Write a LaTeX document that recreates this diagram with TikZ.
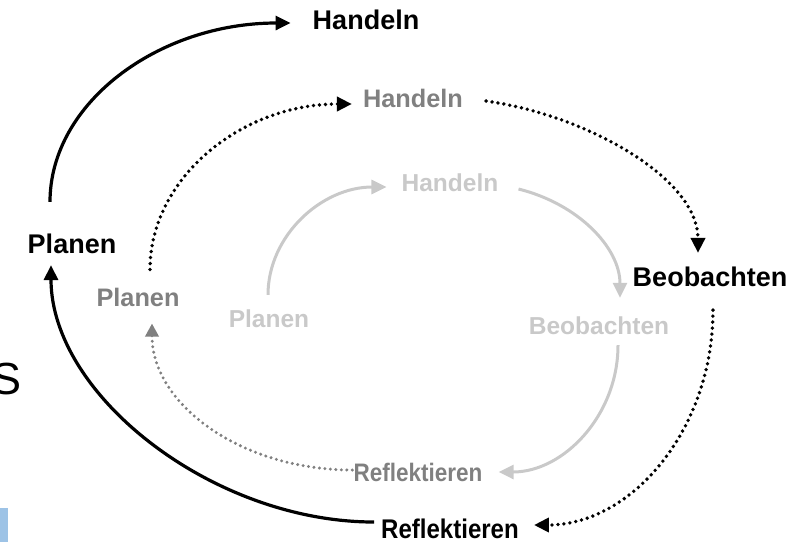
\documentclass[tikz,border=0pt]{standalone}
\usepackage{fontspec}
\usepackage{graphicx}
\setmainfont{Liberation Sans}
\usetikzlibrary{arrows.meta}
\definecolor{midgray}{HTML}{808080}
\definecolor{palegray}{HTML}{C9C9C9}
\definecolor{slideblue}{HTML}{9DC3E6}
\begin{document}
\begin{tikzpicture}[x=1pt, y=-1pt,
    blk/.style={inner sep=0pt, font=\fontsize{27}{30}\selectfont\bfseries},
    gry/.style={inner sep=0pt, text=midgray, font=\fontsize{25.3}{28}\selectfont\bfseries},
    pale/.style={inner sep=0pt, text=palegray, font=\fontsize{24.5}{27}\selectfont\bfseries},
    solidarr/.style={line width=3.2pt, -{Triangle[length=15pt,width=14pt]}},
    dotarr/.style={line width=3.8pt, line cap=round, dash pattern=on 0pt off 6pt, -{Triangle[length=15pt,width=14pt]}},
    grydotarr/.style={midgray, line width=3.3pt, line cap=round, dash pattern=on 0pt off 5.5pt, -{Triangle[length=13pt,width=13pt]}},
    palearr/.style={palegray, line width=3pt, -{Triangle[length=15pt,width=14pt]}}]
    \useasboundingbox (0,0) rectangle (810,542);
    % slide leftovers
    \fill[slideblue] (0,508) rectangle (8,542);
    \draw (7,379) node[inner sep=0pt, font=\fontsize{45}{50}\selectfont] (s) {S};
    % outer cycle
    \draw (366,20) node[blk] (hb) {Handeln};
    \draw (72,244) node[blk] (pb) {Planen};
    \draw (710,277) node[blk] (bb) {Beobachten};
    \draw (450,529) node[blk] (rb) {\scalebox{0.89}[1]{Reflektieren}};
    % middle cycle
    \draw (413,98) node[gry] (hg) {Handeln};
    \draw (138,297) node[gry] (pg) {Planen};
    \draw (418,472) node[gry] (rg) {\scalebox{0.89}[1]{Reflektieren}};
    % inner cycle
    \draw (450,183) node[pale] (hl) {Handeln};
    \draw (269,319) node[pale] (pl) {Planen};
    \draw (599,326) node[pale] (bl) {Beobachten};
    % arrows
    \draw[solidarr] ([xshift=-22pt,yshift=32pt]pb.north) .. controls +(0,-99) and +(-132,0) .. ([xshift=-22pt,yshift=-3pt]hb.west);
    \draw[dotarr] ([xshift=12pt,yshift=18pt]pg.north) .. controls +(0,-91) and +(-111,0) .. ([xshift=-11pt,yshift=-6pt]hg.west);
    \draw[dotarr] ([xshift=23pt,yshift=-3pt]hg.east) .. controls +(100,14) and +(0,-75) .. ([xshift=-12pt,yshift=14pt]bb.north);
    \draw[dotarr] ([xshift=3pt,yshift=-23pt]bb.south) .. controls +(0,119) and +(98,0) .. ([xshift=15pt,yshift=4pt]rb.east);
    \draw[solidarr] ([xshift=-7pt,yshift=7pt]rb.west) .. controls +(-161,0) and +(0,130) .. ([xshift=-21pt,yshift=-11pt]pb.south);
    \draw[grydotarr] ([xshift=-1pt,yshift=2pt]rg.west) .. controls +(-111,0) and +(0,81) .. ([xshift=14pt,yshift=-17pt]pg.south);
    \draw[palearr] ([xshift=-1pt,yshift=15pt]pl.north) .. controls +(0,-59) and +(-65,0) .. ([xshift=-15pt,yshift=-4pt]hl.west);
    \draw[palearr] ([xshift=20pt,yshift=-6pt]hl.east) .. controls +(60,15) and +(0,-50) .. ([xshift=21pt,yshift=19pt]bl.north);
    \draw[palearr] ([xshift=19pt,yshift=-10pt]bl.south) .. controls +(0,70) and +(65,0) .. ([xshift=16pt]rg.east);
\end{tikzpicture}
\end{document}
